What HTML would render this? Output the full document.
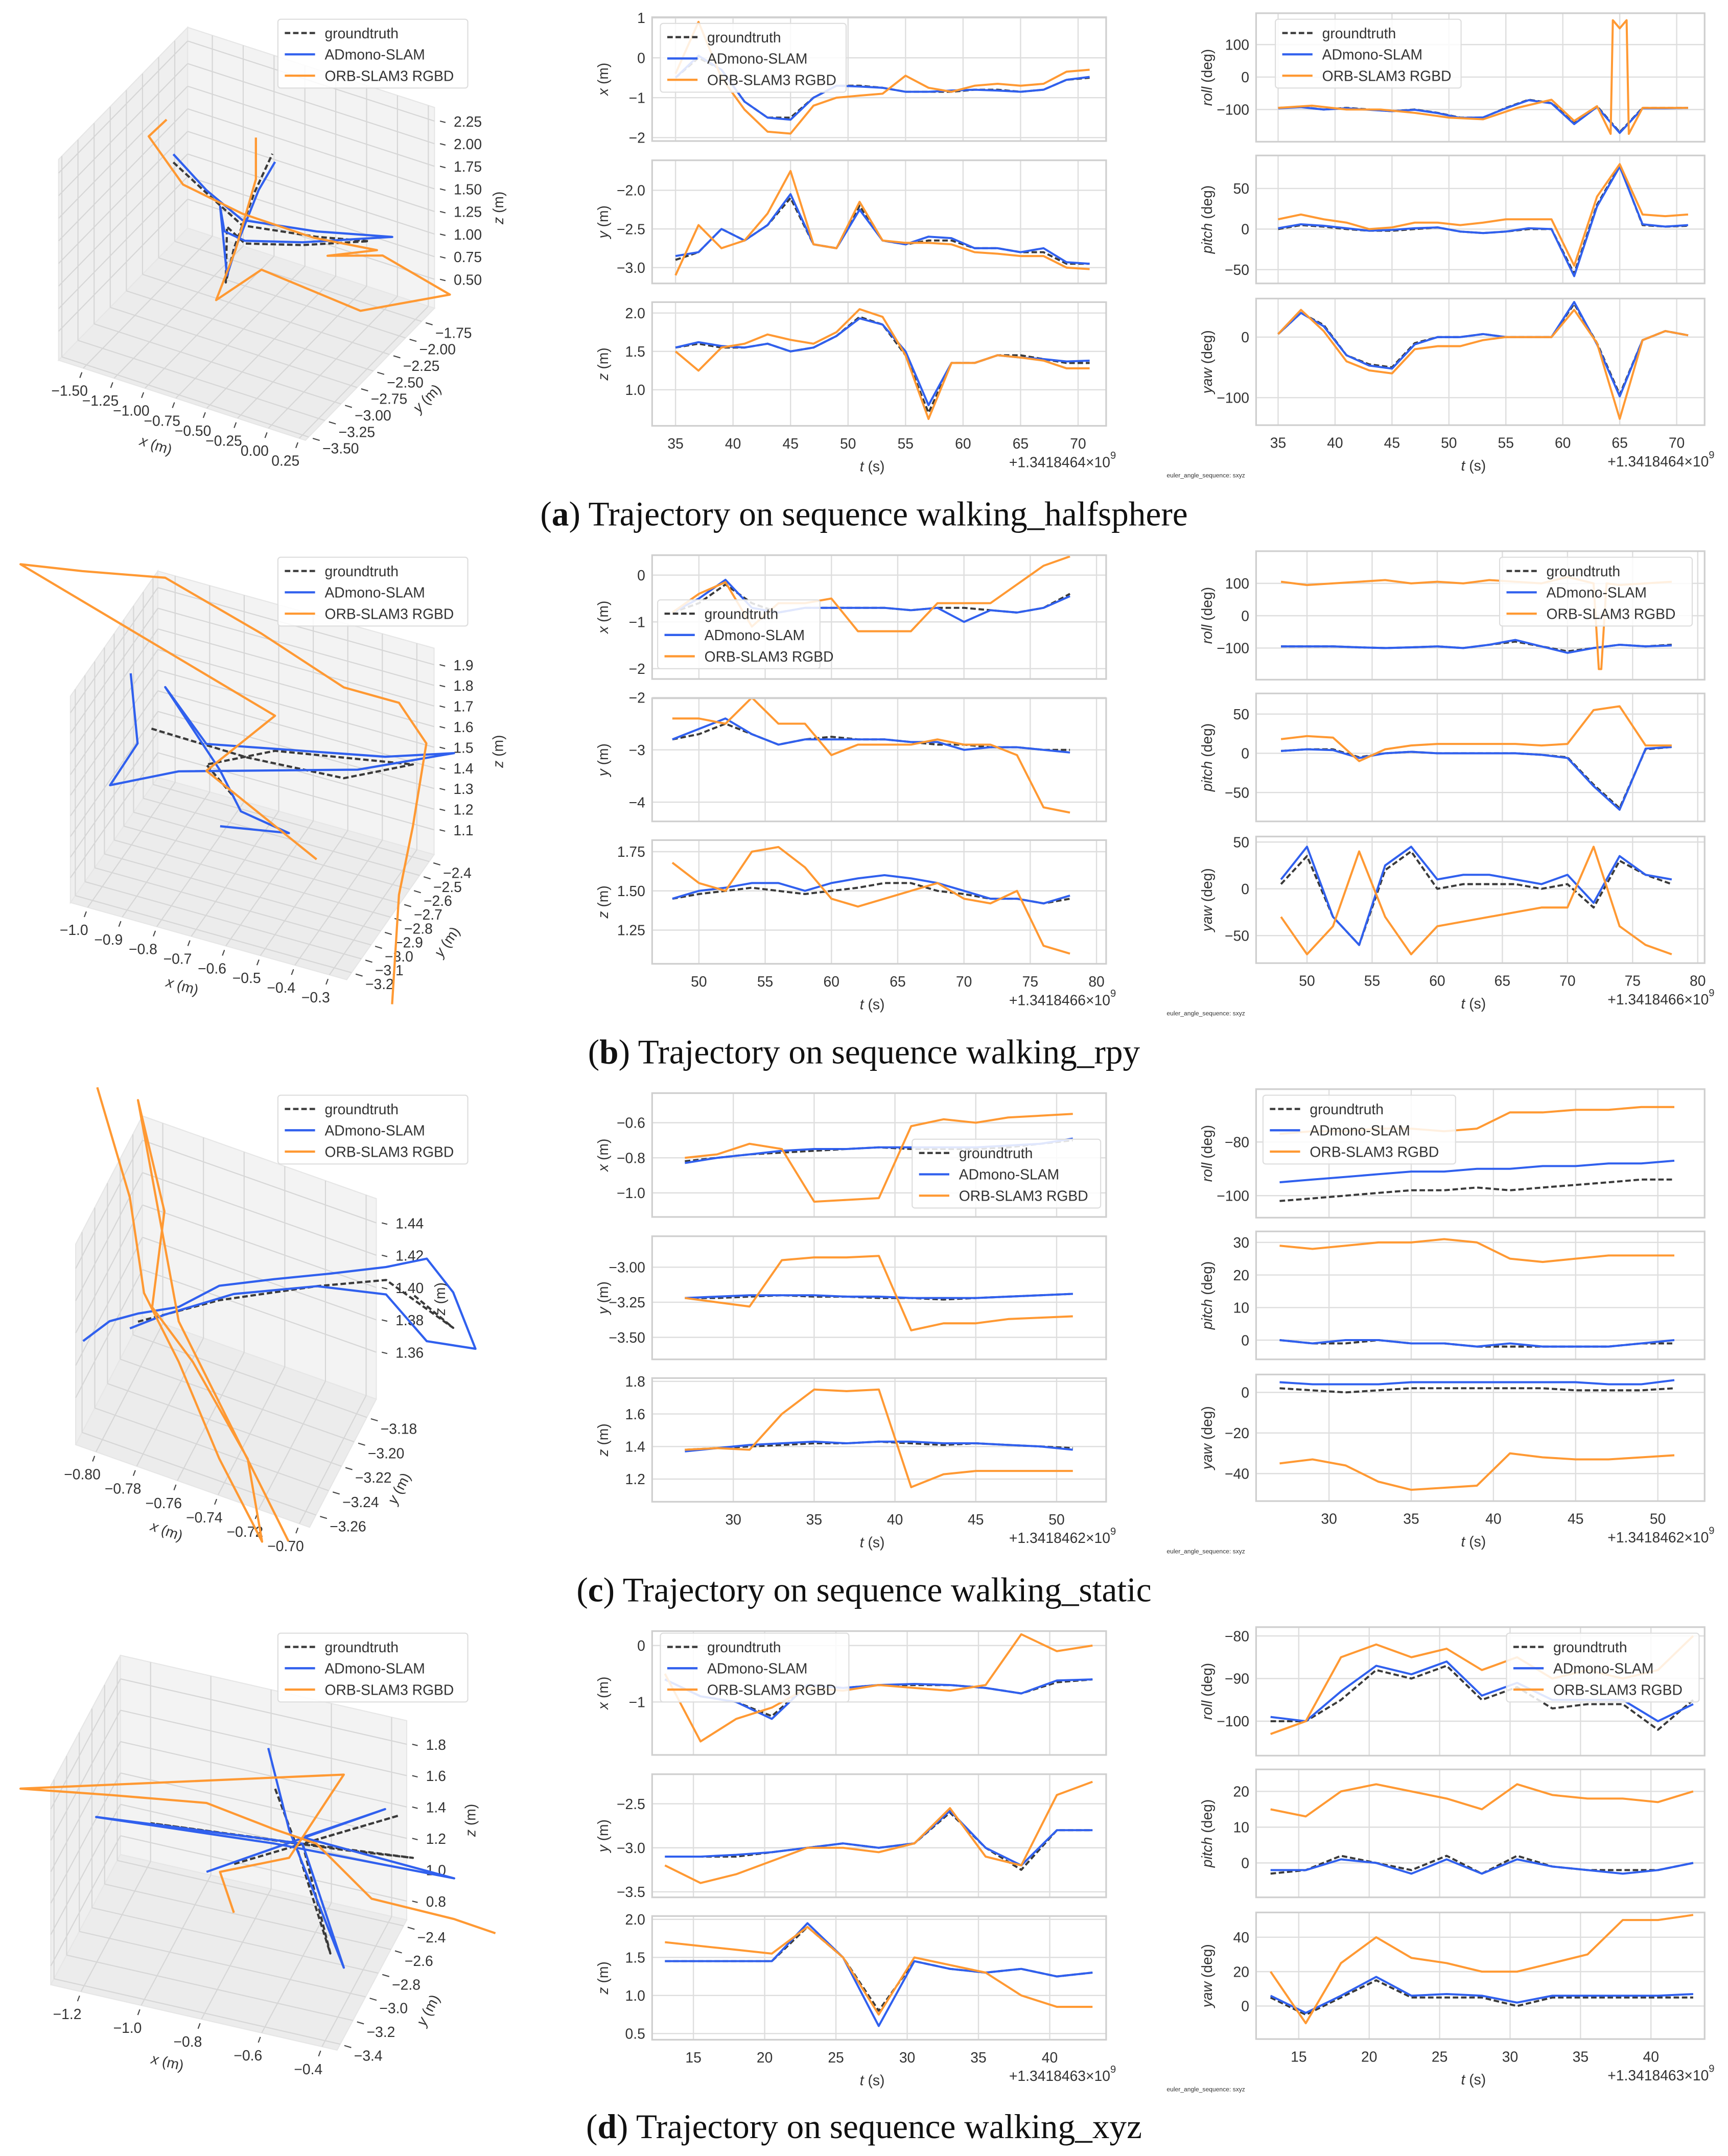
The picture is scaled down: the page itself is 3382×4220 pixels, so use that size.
<!DOCTYPE html>
<html><head><meta charset="utf-8"><title>Trajectory comparison</title>
<style>
html,body{margin:0;padding:0;background:#fff;}
svg{display:block;}
text{font-family:"Liberation Sans",sans-serif;fill:#333;}
.cap{font-family:"Liberation Serif",serif;fill:#111;}
</style></head>
<body>
<svg id="fig" xmlns="http://www.w3.org/2000/svg" width="3382" height="4220" viewBox="0 0 1256 1567" preserveAspectRatio="none">
<rect x="0" y="0" width="1256" height="1567" fill="#fff"/>
<text class="cap" x="628" y="382" font-size="25" text-anchor="middle">(<tspan font-weight="bold">a</tspan>) Trajectory on sequence walking_halfsphere</text>
<text class="cap" x="628" y="773" font-size="25" text-anchor="middle">(<tspan font-weight="bold">b</tspan>) Trajectory on sequence walking_rpy</text>
<text class="cap" x="628" y="1164" font-size="25" text-anchor="middle">(<tspan font-weight="bold">c</tspan>) Trajectory on sequence walking_static</text>
<text class="cap" x="628" y="1554" font-size="25" text-anchor="middle">(<tspan font-weight="bold">d</tspan>) Trajectory on sequence walking_xyz</text>
</svg>
<script>
// ===== time-series data =====
const aT = [35,37,39,41,43,45,47,49,51,53,55,57,59,61,63,65,67,69,71];
const aXgt = [-0.5,0.0,-0.3,-1.1,-1.5,-1.5,-1.0,-0.7,-0.7,-0.75,-0.85,-0.85,-0.85,-0.8,-0.8,-0.85,-0.8,-0.55,-0.5];
const aXad = [-0.5,0.05,-0.3,-1.1,-1.5,-1.55,-1.0,-0.7,-0.72,-0.75,-0.85,-0.85,-0.82,-0.8,-0.82,-0.85,-0.8,-0.55,-0.48];
const aXorb = [-0.4,0.9,-0.5,-1.3,-1.85,-1.9,-1.2,-1.0,-0.95,-0.9,-0.45,-0.75,-0.85,-0.7,-0.65,-0.7,-0.65,-0.35,-0.3];
const aYgt = [-2.9,-2.8,-2.5,-2.65,-2.45,-2.1,-2.7,-2.75,-2.2,-2.65,-2.7,-2.65,-2.65,-2.75,-2.75,-2.8,-2.8,-2.95,-2.95];
const aYad = [-2.85,-2.8,-2.5,-2.65,-2.45,-2.05,-2.7,-2.75,-2.25,-2.65,-2.7,-2.6,-2.62,-2.75,-2.75,-2.8,-2.75,-2.93,-2.95];
const aYorb = [-3.1,-2.45,-2.75,-2.65,-2.3,-1.75,-2.7,-2.75,-2.15,-2.65,-2.68,-2.68,-2.7,-2.8,-2.82,-2.85,-2.85,-3.0,-3.02];
const aZgt = [1.55,1.6,1.55,1.55,1.6,1.5,1.55,1.7,1.95,1.85,1.45,0.7,1.35,1.35,1.45,1.45,1.4,1.35,1.35];
const aZad = [1.55,1.62,1.57,1.55,1.6,1.5,1.55,1.7,1.93,1.85,1.5,0.8,1.35,1.35,1.45,1.42,1.4,1.37,1.38];
const aZorb = [1.5,1.25,1.55,1.6,1.72,1.65,1.6,1.75,2.05,1.95,1.45,0.62,1.35,1.35,1.45,1.42,1.38,1.28,1.28];
const aRgt = [-95,-92,-100,-95,-100,-105,-100,-110,-125,-125,-95,-70,-80,-140,-90,-170,-95,-95,-95];
const aRad = [-96,-93,-100,-96,-101,-105,-101,-111,-126,-124,-96,-71,-81,-145,-92,-172,-96,-96,-95];
const aRorbT = [35,38,41,44,47,50,53,56,59,61,63,64.2,64.4,65,65.6,65.8,67,71];
const aRorb = [-95,-88,-100,-100,-110,-125,-130,-95,-70,-135,-90,-175,175,150,175,-175,-95,-95];
const aPgt = [0,5,3,0,-2,-2,0,2,-3,-5,-3,0,0,-55,30,78,5,3,4];
const aPad = [1,6,4,1,-2,-1,1,2,-3,-5,-3,1,0,-58,28,77,6,3,5];
const aPorb = [12,18,12,8,0,2,8,8,5,8,12,12,12,-45,40,80,18,16,18];
const aWgt = [5,40,20,-30,-45,-50,-10,0,0,5,0,0,0,55,-10,-95,-5,10,3];
const aWad = [5,40,18,-30,-47,-52,-12,0,0,5,0,0,0,58,-12,-98,-5,10,3];
const aWorb = [5,45,10,-40,-55,-60,-20,-15,-15,-5,0,0,0,45,-10,-135,-5,10,3];

const bT = [48,50,52,54,56,58,60,62,64,66,68,70,72,74,76,78];
const bXgt = [-0.8,-0.6,-0.2,-0.6,-0.8,-0.7,-0.7,-0.7,-0.7,-0.75,-0.7,-0.7,-0.75,-0.8,-0.7,-0.4];
const bXad = [-0.8,-0.5,-0.1,-0.7,-0.8,-0.7,-0.7,-0.7,-0.7,-0.75,-0.7,-1.0,-0.75,-0.8,-0.7,-0.45];
const bXorb = [-0.8,-0.4,-0.15,-1.1,-0.6,-0.6,-0.5,-1.2,-1.2,-1.2,-0.6,-0.6,-0.6,-0.2,0.2,0.4];
const bYgt = [-2.8,-2.7,-2.5,-2.7,-2.9,-2.8,-2.75,-2.8,-2.8,-2.85,-2.9,-2.9,-2.95,-2.95,-3.0,-3.0];
const bYad = [-2.8,-2.6,-2.4,-2.7,-2.9,-2.8,-2.8,-2.8,-2.8,-2.85,-2.85,-3.0,-2.95,-2.95,-3.0,-3.05];
const bYorb = [-2.4,-2.4,-2.5,-2.0,-2.5,-2.5,-3.1,-2.9,-2.9,-2.9,-2.8,-2.9,-2.9,-3.1,-4.1,-4.2];
const bZgt = [1.45,1.48,1.5,1.52,1.5,1.48,1.5,1.52,1.55,1.55,1.5,1.48,1.45,1.45,1.42,1.45];
const bZad = [1.45,1.5,1.52,1.55,1.55,1.5,1.55,1.58,1.6,1.58,1.55,1.5,1.45,1.45,1.42,1.47];
const bZorb = [1.68,1.55,1.5,1.75,1.78,1.65,1.45,1.4,1.45,1.5,1.55,1.45,1.42,1.5,1.15,1.1];
const bRgt = [-95,-95,-95,-98,-100,-98,-95,-100,-90,-80,-95,-110,-100,-90,-95,-90];
const bRad = [-95,-95,-95,-98,-100,-98,-95,-100,-90,-75,-95,-115,-100,-90,-95,-92];
const bRorbT = [48,50,52,54,56,58,60,62,64,66,68,70,72,72.4,72.6,73,74,76,78];
const bRorb = [105,95,100,105,110,100,105,100,110,105,100,120,100,-165,-165,100,95,100,105];
const bPgt = [3,5,5,-5,0,2,0,0,0,0,-2,-5,-40,-70,5,8];
const bPad = [3,5,4,-6,0,2,0,0,0,0,-2,-6,-42,-72,6,8];
const bPorb = [18,22,20,-10,5,10,12,12,12,12,10,12,55,60,10,10];
const bWgt = [5,35,-30,-60,20,40,0,5,5,5,0,5,-20,30,15,5];
const bWad = [10,45,-30,-60,25,45,10,15,15,10,5,15,-15,35,15,10];
const bWorb = [-30,-70,-40,40,-30,-70,-40,-35,-30,-25,-20,-20,45,-40,-60,-70];

const cT = [27,29,31,33,35,37,39,41,43,45,47,49,51];
const cXgt = [-0.82,-0.8,-0.78,-0.77,-0.76,-0.75,-0.74,-0.75,-0.75,-0.75,-0.74,-0.72,-0.7];
const cXad = [-0.83,-0.8,-0.78,-0.76,-0.75,-0.75,-0.74,-0.74,-0.74,-0.74,-0.73,-0.72,-0.69];
const cXorb = [-0.8,-0.78,-0.72,-0.75,-1.05,-1.04,-1.03,-0.62,-0.58,-0.6,-0.57,-0.56,-0.55];
const cYgt = [-3.22,-3.22,-3.21,-3.2,-3.21,-3.21,-3.22,-3.22,-3.23,-3.22,-3.21,-3.2,-3.19];
const cYad = [-3.22,-3.21,-3.2,-3.2,-3.2,-3.21,-3.21,-3.22,-3.22,-3.22,-3.21,-3.2,-3.19];
const cYorb = [-3.22,-3.25,-3.28,-2.95,-2.93,-2.93,-2.92,-3.45,-3.4,-3.4,-3.37,-3.36,-3.35];
const cZgt = [1.38,1.39,1.4,1.41,1.42,1.42,1.43,1.42,1.41,1.42,1.41,1.4,1.39];
const cZad = [1.37,1.39,1.41,1.42,1.43,1.42,1.43,1.43,1.42,1.42,1.41,1.4,1.38];
const cZorb = [1.38,1.39,1.38,1.6,1.75,1.74,1.75,1.15,1.23,1.25,1.25,1.25,1.25];
const cRgt = [-102,-101,-100,-99,-98,-98,-97,-98,-97,-96,-95,-94,-94];
const cRad = [-95,-94,-93,-92,-91,-91,-90,-90,-89,-89,-88,-88,-87];
const cRorb = [-77,-76,-76,-75,-75,-76,-75,-69,-69,-68,-68,-67,-67];
const cPgt = [0,-1,-1,0,-1,-1,-2,-2,-2,-2,-2,-1,-1];
const cPad = [0,-1,0,0,-1,-1,-2,-1,-2,-2,-2,-1,0];
const cPorb = [29,28,29,30,30,31,30,25,24,25,26,26,26];
const cWgt = [2,1,0,1,2,2,2,2,2,1,1,1,2];
const cWad = [5,4,4,4,5,5,5,5,5,5,4,4,6];
const cWorb = [-35,-33,-36,-44,-48,-47,-46,-30,-32,-33,-33,-32,-31];

const dT = [13,15.5,18,20.5,23,25.5,28,30.5,33,35.5,38,40.5,43];
const dXgt = [-0.6,-0.9,-1.0,-1.25,-0.7,-0.75,-0.7,-0.7,-0.7,-0.75,-0.85,-0.65,-0.6];
const dXad = [-0.6,-0.9,-1.0,-1.3,-0.7,-0.75,-0.7,-0.68,-0.7,-0.75,-0.85,-0.62,-0.6];
const dXorb = [-0.5,-1.7,-1.3,-1.1,-0.75,-0.8,-0.7,-0.75,-0.8,-0.7,0.2,-0.1,0.0];
const dYgt = [-3.1,-3.1,-3.1,-3.05,-3.0,-2.95,-3.0,-2.95,-2.6,-3.0,-3.25,-2.8,-2.8];
const dYad = [-3.1,-3.1,-3.08,-3.05,-3.0,-2.95,-3.0,-2.95,-2.58,-3.0,-3.2,-2.8,-2.8];
const dYorb = [-3.2,-3.4,-3.3,-3.15,-3.0,-3.0,-3.05,-2.95,-2.55,-3.1,-3.2,-2.4,-2.25];
const dZgt = [1.45,1.45,1.45,1.45,1.9,1.5,0.8,1.45,1.35,1.3,1.35,1.25,1.3];
const dZad = [1.45,1.45,1.45,1.45,1.95,1.5,0.6,1.45,1.35,1.3,1.35,1.25,1.3];
const dZorb = [1.7,1.65,1.6,1.55,1.9,1.5,0.75,1.5,1.4,1.3,1.0,0.85,0.85];
const dRgt = [-100,-100,-95,-88,-90,-87,-95,-92,-97,-96,-96,-102,-95];
const dRad = [-99,-100,-93,-87,-89,-86,-94,-91,-95,-95,-95,-100,-96];
const dRorb = [-103,-100,-85,-82,-85,-83,-88,-85,-90,-88,-90,-88,-80];
const dPgt = [-3,-2,2,0,-2,2,-3,2,-1,-2,-2,-2,0];
const dPad = [-2,-2,1,0,-3,1,-3,1,-1,-2,-3,-2,0];
const dPorb = [15,13,20,22,20,18,15,22,19,18,18,17,20];
const dWgt = [5,-5,5,15,5,5,5,0,5,5,5,5,5];
const dWad = [6,-4,6,17,6,7,6,2,6,6,6,6,7];
const dWorb = [20,-10,25,40,28,25,20,20,25,30,50,50,53];

// tick values
const aTicksT = [35,40,45,50,55,60,65,70];
const bTicksT = [50,55,60,65,70,75,80];
const cTicksT = [30,35,40,45,50];
const dTicksT = [15,20,25,30,35,40];

// ===== 3D trajectory data =====
const a3gtX = [-1.319,-1.051,-0.761,-0.159,0.264,-0.271,-0.739,-0.884,-0.895,-0.828,-0.661,-0.516];
const a3gtY = [-2.5,-2.5,-2.5,-2.5,-2.5,-2.5,-2.5,-2.5,-2.5,-2.5,-2.5,-2.5];
const a3gtZ = [1.77,1.55,1.32,1.46,1.60,1.32,1.13,1.25,0.63,1.04,1.73,2.22];
const a3adX = [-1.319,-1.051,-0.761,-0.159,0.454,-0.271,-0.739,-0.906,-0.940,-0.884,-0.806,-0.628,-0.495];
const a3adY = [-2.5,-2.5,-2.5,-2.5,-2.5,-2.5,-2.5,-2.5,-2.5,-2.5,-2.5,-2.5,-2.5];
const a3adZ = [1.86,1.58,1.38,1.52,1.73,1.35,1.16,1.19,1.45,0.71,1.08,1.77,2.14];
const a3orbX = [-1.374,-1.519,-1.241,-0.761,-0.182,0.331,-0.070,0.376,0.922,0.197,-0.605,-0.973,-0.817,-0.650,-0.650];
const a3orbY = [-2.5,-2.5,-2.5,-2.5,-2.5,-2.5,-2.5,-2.5,-2.5,-2.5,-2.5,-2.5,-2.5,-2.5,-2.5];
const a3orbZ = [2.22,1.97,1.56,1.45,1.44,1.53,1.29,1.49,1.30,0.80,0.90,0.40,1.02,1.88,2.34];

const b3gtX = [-0.942,-0.664,-0.385,-0.185,-0.584,-0.783,-0.703];
const b3gtY = [-2.8,-2.8,-2.8,-2.8,-2.8,-2.8,-2.8];
const b3gtZ = [1.57,1.56,1.59,1.75,1.63,1.47,1.35];
const b3adX = [-1.002,-0.982,-1.062,-0.863,-0.345,-0.066,-0.265,-0.783,-0.902,-0.743,-0.683,-0.544,-0.743];
const b3adY = [-2.8,-2.8,-2.8,-2.8,-2.8,-2.8,-2.8,-2.8,-2.8,-2.8,-2.8,-2.8,-2.8];
const b3adZ = [1.81,1.48,1.24,1.40,1.65,1.86,1.75,1.57,1.79,1.46,1.29,1.25,1.19];
const b3orbX = [-0.464,-0.783,-0.584,-1.321,-1.142,-0.902,-0.624,-0.385,-0.225,-0.146,-0.185,-0.225,-0.245];
const b3orbY = [-2.8,-2.8,-2.8,-2.8,-2.8,-2.8,-2.8,-2.8,-2.8,-2.8,-2.8,-2.8,-2.8];
const b3orbZ = [1.16,1.44,1.80,2.19,2.24,2.32,2.18,2.03,2.03,1.87,1.45,1.10,0.56];

const c3gtX = [-0.795,-0.755,-0.707,-0.673,-0.640,-0.660];
const c3gtY = [-3.22,-3.22,-3.22,-3.22,-3.22,-3.22];
const c3gtZ = [1.376,1.407,1.437,1.456,1.441,1.453];
const c3adX = [-0.822,-0.809,-0.795,-0.775,-0.755,-0.728,-0.700,-0.673,-0.653,-0.640,-0.629,-0.653,-0.673,-0.707,-0.748,-0.782,-0.799];
const c3adY = [-3.22,-3.22,-3.22,-3.22,-3.22,-3.22,-3.22,-3.22,-3.22,-3.22,-3.22,-3.22,-3.22,-3.22,-3.22,-3.22,-3.22];
const c3adZ = [1.352,1.370,1.381,1.394,1.416,1.432,1.448,1.464,1.478,1.463,1.433,1.427,1.447,1.437,1.414,1.386,1.370];
const c3orbX = [-0.815,-0.799,-0.792,-0.775,-0.755,-0.734,-0.741,-0.768,-0.788,-0.782,-0.795,-0.775,-0.748,-0.721];
const c3orbY = [-3.22,-3.22,-3.22,-3.22,-3.22,-3.22,-3.22,-3.22,-3.22,-3.22,-3.22,-3.22,-3.22,-3.22];
const c3orbZ = [1.512,1.451,1.395,1.360,1.309,1.267,1.315,1.363,1.388,1.450,1.513,1.385,1.329,1.273];

const d3gtX = [-0.671,-0.603,-0.488,-0.580,-1.082,-0.443,-0.214,-0.580,-0.260,-0.808];
const d3gtY = [-2.9,-2.9,-2.9,-2.9,-2.9,-2.9,-2.9,-2.9,-2.9,-2.9];
const d3gtZ = [1.79,1.47,0.82,1.48,1.39,1.50,1.55,1.48,1.80,1.25];
const d3adX = [-0.694,-0.625,-0.534,-0.443,-0.580,-1.265,-0.671,-0.077,-0.580,-0.306,-0.899];
const d3adY = [-2.9,-2.9,-2.9,-2.9,-2.9,-2.9,-2.9,-2.9,-2.9,-2.9,-2.9];
const d3adZ = [2.04,1.55,1.15,0.75,1.48,1.35,1.44,1.48,1.52,1.82,1.16];
const d3orbX = [-0.808,-0.854,-0.625,-0.443,-1.516,-1.219,-0.899,-0.671,-0.534,-0.351,-0.077,0.06];
const d3orbY = [-2.9,-2.9,-2.9,-2.9,-2.9,-2.9,-2.9,-2.9,-2.9,-2.9,-2.9,-2.9];
const d3orbZ = [0.94,1.18,1.37,1.98,1.42,1.51,1.60,1.53,1.50,1.23,1.22,1.19];

// 3D tick values
const a3xt = [-1.5,-1.25,-1,-0.75,-0.5,-0.25,0,0.25];
const a3yt = [-3.5,-3.25,-3,-2.75,-2.5,-2.25,-2,-1.75];
const a3zt = [0.5,0.75,1,1.25,1.5,1.75,2,2.25];
const b3xt = [-1.0,-0.9,-0.8,-0.7,-0.6,-0.5,-0.4,-0.3];
const b3yt = [-3.2,-3.1,-3.0,-2.9,-2.8,-2.7,-2.6,-2.5,-2.4];
const b3zt = [1.1,1.2,1.3,1.4,1.5,1.6,1.7,1.8,1.9];
const c3xt = [-0.80,-0.78,-0.76,-0.74,-0.72,-0.70];
const c3yt = [-3.26,-3.24,-3.22,-3.20,-3.18];
const c3zt = [1.36,1.38,1.40,1.42,1.44];
const d3xt = [-1.2,-1.0,-0.8,-0.6,-0.4];
const d3yt = [-3.4,-3.2,-3.0,-2.8,-2.6,-2.4];
const d3zt = [0.8,1.0,1.2,1.4,1.6,1.8];

// ===== drawing =====
const NS = 'http://www.w3.org/2000/svg';
const svg = document.getElementById('fig');
const C_GT = '#3a3a3a', C_AD = '#3060ee', C_ORB = '#ff9933';
function mk(tag, attrs, parent) {
  const e = document.createElementNS(NS, tag);
  for (const k in attrs) e.setAttribute(k, attrs[k]);
  (parent || svg).appendChild(e);
  return e;
}
function lin(c) { return v => c[1] + (v - c[0]) * (c[3] - c[1]) / (c[2] - c[0]); }
function fmt(v, d) { return v.toFixed(d).replace('-', '\u2212'); }

function legend(x, y, w, name) {
  const g = mk('g', {});
  
  
  mk('rect', {x: x, y: y, width: w, height: 50, rx: 2, fill: '#fff', 'fill-opacity': 0.85, stroke: '#dddddd', 'stroke-width': 0.8}, g);
  const items = [['groundtruth', C_GT, '4,2'], ['ADmono-SLAM', C_AD, ''], ['ORB-SLAM3 RGBD', C_ORB, '']];
  items.forEach((it, i) => {
    const yy = y + 10 + i * 15.5;
    const e = mk('g', {}, g);
    
    
    const ln = mk('line', {x1: x + 5, x2: x + 27, y1: yy, y2: yy, stroke: it[1], 'stroke-width': 1.6}, e);
    if (it[2]) ln.setAttribute('stroke-dasharray', it[2]);
    const t = mk('text', {x: x + 34, y: yy + 3.8, 'font-size': 10.5}, e);
    t.textContent = it[0];
  });
}

let clipId = 0;
function panel(p) {
  const g = mk('g', {});
  
  
  const [x0, y0, x1, y1] = p.box;
  const X = lin(p.xcal), Y = lin(p.ycal);
  mk('rect', {x: x0, y: y0, width: x1 - x0, height: y1 - y0, fill: '#fff'}, g);
  p.xt.forEach(t => {
    const gl = mk('line', {x1: X(t), x2: X(t), y1: y0, y2: y1, stroke: '#dedede', 'stroke-width': 0.9}, g);
    
    
  });
  p.yt.forEach(v => {
    const gl = mk('line', {x1: x0, x2: x1, y1: Y(v), y2: Y(v), stroke: '#dedede', 'stroke-width': 0.9}, g);
    
    
    const t = mk('text', {x: x0 - 5, y: Y(v) + 3.8, 'font-size': 10.5, 'text-anchor': 'end'}, g);
    
    
    t.textContent = fmt(v, p.yd);
  });
  const cid = 'clip' + (clipId++);
  const cp = mk('clipPath', {id: cid}, g);
  mk('rect', {x: x0, y: y0, width: x1 - x0, height: y1 - y0}, cp);
  const series = [[p.t, p.gt, C_GT, '4,2', 'groundtruth-line'], [p.t, p.ad, C_AD, '', 'admono-line'], [p.ot || p.t, p.orb, C_ORB, '', 'orb-slam3-line']];
  series.forEach(s => {
    const pts = s[1].map((v, i) => X(s[0][i]).toFixed(1) + ',' + Y(v).toFixed(1)).join(' ');
    const pl = mk('polyline', {points: pts, fill: 'none', stroke: s[2], 'stroke-width': 1.5, 'stroke-linejoin': 'round', 'clip-path': 'url(#' + cid + ')'}, g);
    if (s[3]) pl.setAttribute('stroke-dasharray', s[3]);
    
    
  });
  mk('rect', {x: x0, y: y0, width: x1 - x0, height: y1 - y0, fill: 'none', stroke: '#cfcfcf', 'stroke-width': 1.2}, g);
  const cy = (y0 + y1) / 2, lx = x0 - 32;
  const yl = mk('text', {x: lx, y: cy, 'font-size': 10.5, 'text-anchor': 'middle', transform: 'rotate(-90 ' + lx + ' ' + cy + ')'}, g);
  
  
  const ti = mk('tspan', {'font-style': 'italic'}, yl); ti.textContent = p.yl;
  const tu = mk('tspan', {}, yl); tu.textContent = ' ' + p.yu;
  if (p.bottom) {
    p.xt.forEach(t => {
      const tl = mk('text', {x: X(t), y: y1 + 16.5, 'font-size': 10.5, 'text-anchor': 'middle'}, g);
      
      
      tl.textContent = String(t);
    });
    const xl = mk('text', {x: (x0 + x1) / 2 - 5, y: y1 + 33, 'font-size': 10.5, 'text-anchor': 'middle'}, g);
    
    
    const a = mk('tspan', {'font-style': 'italic'}, xl); a.textContent = 't';
    const b = mk('tspan', {}, xl); b.textContent = ' (s)';
    const ot = mk('text', {x: x1 + 3, y: y1 + 30, 'font-size': 10.5, 'text-anchor': 'end'}, g);
    
    
    ot.textContent = p.off + '\u00d710';
    const sp = mk('text', {x: x1 + 3, y: y1 + 24, 'font-size': 7.5}, g);
    sp.textContent = '9';
  }
}

const rows = [
  {k: 'a', R: 0, T: aT, xt: aTicksT, mx: [35, 491, 70, 783.6], rx: [35, 929, 70, 1218.7], off: '+1.3418464',
   mid: [
     {n: 'x', yl: 'x', yu: '(m)', ycal: [0, 42, -2, 100], yt: [1, 0, -1, -2], yd: 0, gt: aXgt, ad: aXad, orb: aXorb},
     {n: 'y', yl: 'y', yu: '(m)', ycal: [-2, 138.3, -3, 194.5], yt: [-2, -2.5, -3], yd: 1, gt: aYgt, ad: aYad, orb: aYorb},
     {n: 'z', yl: 'z', yu: '(m)', ycal: [2, 227.5, 1, 283.3], yt: [2, 1.5, 1], yd: 1, gt: aZgt, ad: aZad, orb: aZorb}],
   right: [
     {n: 'roll', yl: 'roll', yu: '(deg)', ycal: [100, 32.4, -100, 79.6], yt: [100, 0, -100], yd: 0, gt: aRgt, ad: aRad, orb: aRorb, ot: aRorbT},
     {n: 'pitch', yl: 'pitch', yu: '(deg)', ycal: [50, 137, -50, 196], yt: [50, 0, -50], yd: 0, gt: aPgt, ad: aPad, orb: aPorb},
     {n: 'yaw', yl: 'yaw', yu: '(deg)', ycal: [0, 245, -100, 289], yt: [0, -100], yd: 0, gt: aWgt, ad: aWad, orb: aWorb}]},
  {k: 'b', R: 391, T: bT, xt: bTicksT, mx: [50, 508, 80, 797], rx: [50, 950, 80, 1234], off: '+1.3418466',
   mid: [
     {n: 'x', yl: 'x', yu: '(m)', ycal: [0, 418, -2, 486], yt: [0, -1, -2], yd: 0, gt: bXgt, ad: bXad, orb: bXorb},
     {n: 'y', yl: 'y', yu: '(m)', ycal: [-2, 507, -4, 583], yt: [-2, -3, -4], yd: 0, gt: bYgt, ad: bYad, orb: bYorb},
     {n: 'z', yl: 'z', yu: '(m)', ycal: [1.75, 619, 1.25, 676], yt: [1.75, 1.5, 1.25], yd: 2, gt: bZgt, ad: bZad, orb: bZorb}],
   right: [
     {n: 'roll', yl: 'roll', yu: '(deg)', ycal: [100, 424, -100, 471], yt: [100, 0, -100], yd: 0, gt: bRgt, ad: bRad, orb: bRorb, ot: bRorbT},
     {n: 'pitch', yl: 'pitch', yu: '(deg)', ycal: [50, 519, -50, 576], yt: [50, 0, -50], yd: 0, gt: bPgt, ad: bPad, orb: bPorb},
     {n: 'yaw', yl: 'yaw', yu: '(deg)', ycal: [50, 612, -50, 680], yt: [50, 0, -50], yd: 0, gt: bWgt, ad: bWad, orb: bWorb}]},
  {k: 'c', R: 782, T: cT, xt: cTicksT, mx: [30, 533, 50, 768], rx: [30, 966, 50, 1205], off: '+1.3418462',
   mid: [
     {n: 'x', yl: 'x', yu: '(m)', ycal: [-0.6, 816, -1.0, 867], yt: [-0.6, -0.8, -1.0], yd: 1, gt: cXgt, ad: cXad, orb: cXorb},
     {n: 'y', yl: 'y', yu: '(m)', ycal: [-3.0, 921, -3.5, 972], yt: [-3.0, -3.25, -3.5], yd: 2, gt: cYgt, ad: cYad, orb: cYorb},
     {n: 'z', yl: 'z', yu: '(m)', ycal: [1.8, 1004, 1.2, 1075], yt: [1.8, 1.6, 1.4, 1.2], yd: 1, gt: cZgt, ad: cZad, orb: cZorb}],
   right: [
     {n: 'roll', yl: 'roll', yu: '(deg)', ycal: [-80, 830, -100, 869], yt: [-80, -100], yd: 0, gt: cRgt, ad: cRad, orb: cRorb},
     {n: 'pitch', yl: 'pitch', yu: '(deg)', ycal: [30, 903, 0, 974], yt: [30, 20, 10, 0], yd: 0, gt: cPgt, ad: cPad, orb: cPorb},
     {n: 'yaw', yl: 'yaw', yu: '(deg)', ycal: [0, 1012, -40, 1071], yt: [0, -20, -40], yd: 0, gt: cWgt, ad: cWad, orb: cWorb}]},
  {k: 'd', R: 1173, T: dT, xt: dTicksT, mx: [15, 504, 40, 763], rx: [15, 944, 40, 1200], off: '+1.3418463',
   mid: [
     {n: 'x', yl: 'x', yu: '(m)', ycal: [0, 1196, -1, 1237], yt: [0, -1], yd: 0, gt: dXgt, ad: dXad, orb: dXorb},
     {n: 'y', yl: 'y', yu: '(m)', ycal: [-2.5, 1311, -3.5, 1375], yt: [-2.5, -3.0, -3.5], yd: 1, gt: dYgt, ad: dYad, orb: dYorb},
     {n: 'z', yl: 'z', yu: '(m)', ycal: [2.0, 1395, 0.5, 1478], yt: [2.0, 1.5, 1.0, 0.5], yd: 1, gt: dZgt, ad: dZad, orb: dZorb}],
   right: [
     {n: 'roll', yl: 'roll', yu: '(deg)', ycal: [-80, 1189, -100, 1251], yt: [-80, -90, -100], yd: 0, gt: dRgt, ad: dRad, orb: dRorb},
     {n: 'pitch', yl: 'pitch', yu: '(deg)', ycal: [20, 1302, 0, 1354], yt: [20, 10, 0], yd: 0, gt: dPgt, ad: dPad, orb: dPorb},
     {n: 'yaw', yl: 'yaw', yu: '(deg)', ycal: [40, 1408, 0, 1458], yt: [40, 20, 0], yd: 0, gt: dWgt, ad: dWad, orb: dWorb}]}
];
const midY = [[12.5, 102.5], [116.5, 206], [219.6, 309.5]];
const rightY = [[9.6, 103], [113, 206], [217, 309]];

rows.forEach(r => {
  r.mid.forEach((s, i) => panel({name: 'panel-' + r.k + '-' + s.n, box: [474, midY[i][0] + r.R, 804, midY[i][1] + r.R], xcal: r.mx, ycal: s.ycal, xt: r.xt, yt: s.yt, yd: s.yd, yl: s.yl, yu: s.yu, t: r.T, gt: s.gt, ad: s.ad, orb: s.orb, ot: s.ot, bottom: i === 2, off: r.off}));
  r.right.forEach((s, i) => panel({name: 'panel-' + r.k + '-' + s.n, box: [913, rightY[i][0] + r.R, 1239, rightY[i][1] + r.R], xcal: r.rx, ycal: s.ycal, xt: r.xt, yt: s.yt, yd: s.yd, yl: s.yl, yu: s.yu, t: r.T, gt: s.gt, ad: s.ad, orb: s.orb, ot: s.ot, bottom: i === 2, off: r.off}));
  const eu = mk('text', {x: 848, y: 347 + r.R, 'font-size': 4.5});
  
  
  eu.textContent = 'euler_angle_sequence: sxyz';
});

// ===== 3D plots =====
const cfg3 = [
  {k: 'a', ox: 222, oy: 320, xr: [-1.7, 0.3], yr: [-3.55, -1.55], zr: [0.18, 2.4], xa: 89.7, xb: 29.1, ya: 46.9, yb: 48, zc: 65.7, d: [2, 2, 2],
   xt: a3xt, yt: a3yt, zt: a3zt, gt: [a3gtX, a3gtY, a3gtZ], ad: [a3adX, a3adY, a3adZ], orb: [a3orbX, a3orbY, a3orbZ]},
  {k: 'b', ox: 252, oy: 712, xr: [-1.05, -0.25], yr: [-3.25, -2.35], zr: [0.98, 1.98], xa: 251, xb: 70, ya: 70.6, yb: 101, zc: 150, d: [1, 1, 1],
   xt: b3xt, yt: b3yt, zt: b3zt, gt: [b3gtX, b3gtY, b3gtZ], ad: [b3adX, b3adY, b3adZ], orb: [b3orbX, b3orbY, b3orbZ]},
  {k: 'c', ox: 225, oy: 1110, xr: [-0.81, -0.695], yr: [-3.27, -3.165], zr: [1.331, 1.455], xa: 1478, xb: 522, ya: 462, yb: 887, zc: 1175, d: [2, 2, 2],
   xt: c3xt, yt: c3yt, zt: c3zt, gt: [c3gtX, c3gtY, c3gtZ], ad: [c3adX, c3adY, c3adZ], orb: [c3orbX, c3orbY, c3orbZ]},
  {k: 'd', ox: 245, oy: 1490, xr: [-1.3, -0.35], yr: [-3.45, -2.35], zr: [0.68, 1.95], xa: 219, xb: 50, ya: 46, yb: 86, zc: 114, d: [1, 1, 1],
   xt: d3xt, yt: d3yt, zt: d3zt, gt: [d3gtX, d3gtY, d3gtZ], ad: [d3adX, d3adY, d3adZ], orb: [d3orbX, d3orbY, d3orbZ]}
];
cfg3.forEach(c => {
  const g = mk('g', {});
  
  
  const [x0, x1] = c.xr, [y0, y1] = c.yr, [z0, z1] = c.zr;
  const P = (x, y, z) => [c.ox + (x - x1) * c.xa + (y - y0) * c.ya, c.oy + (x - x1) * c.xb - (y - y0) * c.yb - (z - z0) * c.zc];
  const poly = (pts, fill, name) => {
    const e = mk('polygon', {points: pts.map(p => p[0].toFixed(1) + ',' + p[1].toFixed(1)).join(' '), fill: fill, stroke: '#e6e6e6', 'stroke-width': 0.8}, g);
    
    
  };
  poly([P(x0, y0, z0), P(x0, y1, z0), P(x0, y1, z1), P(x0, y0, z1)], '#efefef', 'left-pane');
  poly([P(x0, y1, z0), P(x1, y1, z0), P(x1, y1, z1), P(x0, y1, z1)], '#f3f3f3', 'back-pane');
  poly([P(x0, y0, z0), P(x1, y0, z0), P(x1, y1, z0), P(x0, y1, z0)], '#ececec', 'floor-pane');
  const seg = (a, b, col, w) => mk('line', {x1: a[0], y1: a[1], x2: b[0], y2: b[1], stroke: col, 'stroke-width': w}, g);
  const GC = '#d6d6d6';
  c.xt.forEach(x => { seg(P(x, y0, z0), P(x, y1, z0), GC, 0.8); seg(P(x, y1, z0), P(x, y1, z1), GC, 0.8); });
  c.yt.forEach(y => { seg(P(x0, y, z0), P(x1, y, z0), GC, 0.8); seg(P(x0, y, z0), P(x0, y, z1), GC, 0.8); });
  c.zt.forEach(z => { seg(P(x0, y0, z), P(x0, y1, z), GC, 0.8); seg(P(x0, y1, z), P(x1, y1, z), GC, 0.8); });
  c.xt.forEach(x => {
    const p = P(x, y0, z0);
    seg([p[0] - 1, p[1] + 3], [p[0] - 2.5, p[1] + 7], '#444', 0.8);
    const t = mk('text', {x: p[0] - 10, y: p[1] + 20, 'font-size': 10.5, 'text-anchor': 'middle'}, g);
    
    
    t.textContent = fmt(x, c.d[0]);
  });
  c.yt.forEach(y => {
    const p = P(x1, y, z0);
    seg([p[0] + 3, p[1] + 1], [p[0] + 8, p[1] + 2.5], '#444', 0.8);
    const t = mk('text', {x: p[0] + 10, y: p[1] + 12, 'font-size': 10.5}, g);
    
    
    t.textContent = fmt(y, c.d[1]);
  });
  c.zt.forEach(z => {
    const p = P(x1, y1, z);
    seg([p[0] + 4, p[1]], [p[0] + 8, p[1] + 1], '#444', 0.8);
    const t = mk('text', {x: p[0] + 14, y: p[1] + 4, 'font-size': 10.5}, g);
    
    
    t.textContent = fmt(z, c.d[2]);
  });
  const xm = P((x0 + x1) / 2, y0, z0), ang = Math.atan2(c.xb, c.xa) * 180 / Math.PI;
  const xt = mk('text', {x: xm[0] - 20, y: xm[1] + 36, 'font-size': 10.5, 'text-anchor': 'middle', transform: 'rotate(' + ang.toFixed(1) + ' ' + (xm[0] - 20) + ' ' + (xm[1] + 36) + ')'}, g);
  
  
  const xi = mk('tspan', {'font-style': 'italic'}, xt); xi.textContent = 'x'; const xu = mk('tspan', {}, xt); xu.textContent = ' (m)';
  const ym = P(x1, (y0 + y1) / 2, z0), angy = -Math.atan2(c.yb, c.ya) * 180 / Math.PI;
  const yt = mk('text', {x: ym[0] + 44, y: ym[1] + 20, 'font-size': 10.5, 'text-anchor': 'middle', transform: 'rotate(' + angy.toFixed(1) + ' ' + (ym[0] + 44) + ' ' + (ym[1] + 20) + ')'}, g);
  
  
  const yi = mk('tspan', {'font-style': 'italic'}, yt); yi.textContent = 'y'; const yu = mk('tspan', {}, yt); yu.textContent = ' (m)';
  const zm = P(x1, y1, (z0 + z1) / 2);
  const zx = zm[0] + 50, zy = zm[1];
  const zt = mk('text', {x: zx, y: zy, 'font-size': 10.5, 'text-anchor': 'middle', transform: 'rotate(-90 ' + zx + ' ' + zy + ')'}, g);
  
  
  const zi = mk('tspan', {'font-style': 'italic'}, zt); zi.textContent = 'z'; const zu = mk('tspan', {}, zt); zu.textContent = ' (m)';
  [[c.gt, C_GT, '4,2', 'groundtruth-trajectory'], [c.ad, C_AD, '', 'admono-trajectory'], [c.orb, C_ORB, '', 'orb-slam3-trajectory']].forEach(s => {
    const d = s[0];
    const pts = d[0].map((x, i) => { const p = P(x, d[1][i], d[2][i]); return p[0].toFixed(1) + ',' + p[1].toFixed(1); }).join(' ');
    const pl = mk('polyline', {points: pts, fill: 'none', stroke: s[1], 'stroke-width': 1.6, 'stroke-linejoin': 'round'}, g);
    if (s[2]) pl.setAttribute('stroke-dasharray', s[2]);
    
    
  });
});

legend(202, 14, 138, 'legend-3d-a');
legend(480, 17, 135, 'legend-xyz-a');
legend(927, 14, 135, 'legend-rpy-a');
legend(202, 405, 138, 'legend-3d-b');
legend(478, 436, 118, 'legend-xyz-b');
legend(1090, 405, 140, 'legend-rpy-b');
legend(202, 796, 138, 'legend-3d-c');
legend(663, 828, 137, 'legend-xyz-c');
legend(918, 796, 140, 'legend-rpy-c');
legend(202, 1187, 138, 'legend-3d-d');
legend(480, 1187, 137, 'legend-xyz-d');
legend(1095, 1187, 140, 'legend-rpy-d');
</script>
</body></html>
